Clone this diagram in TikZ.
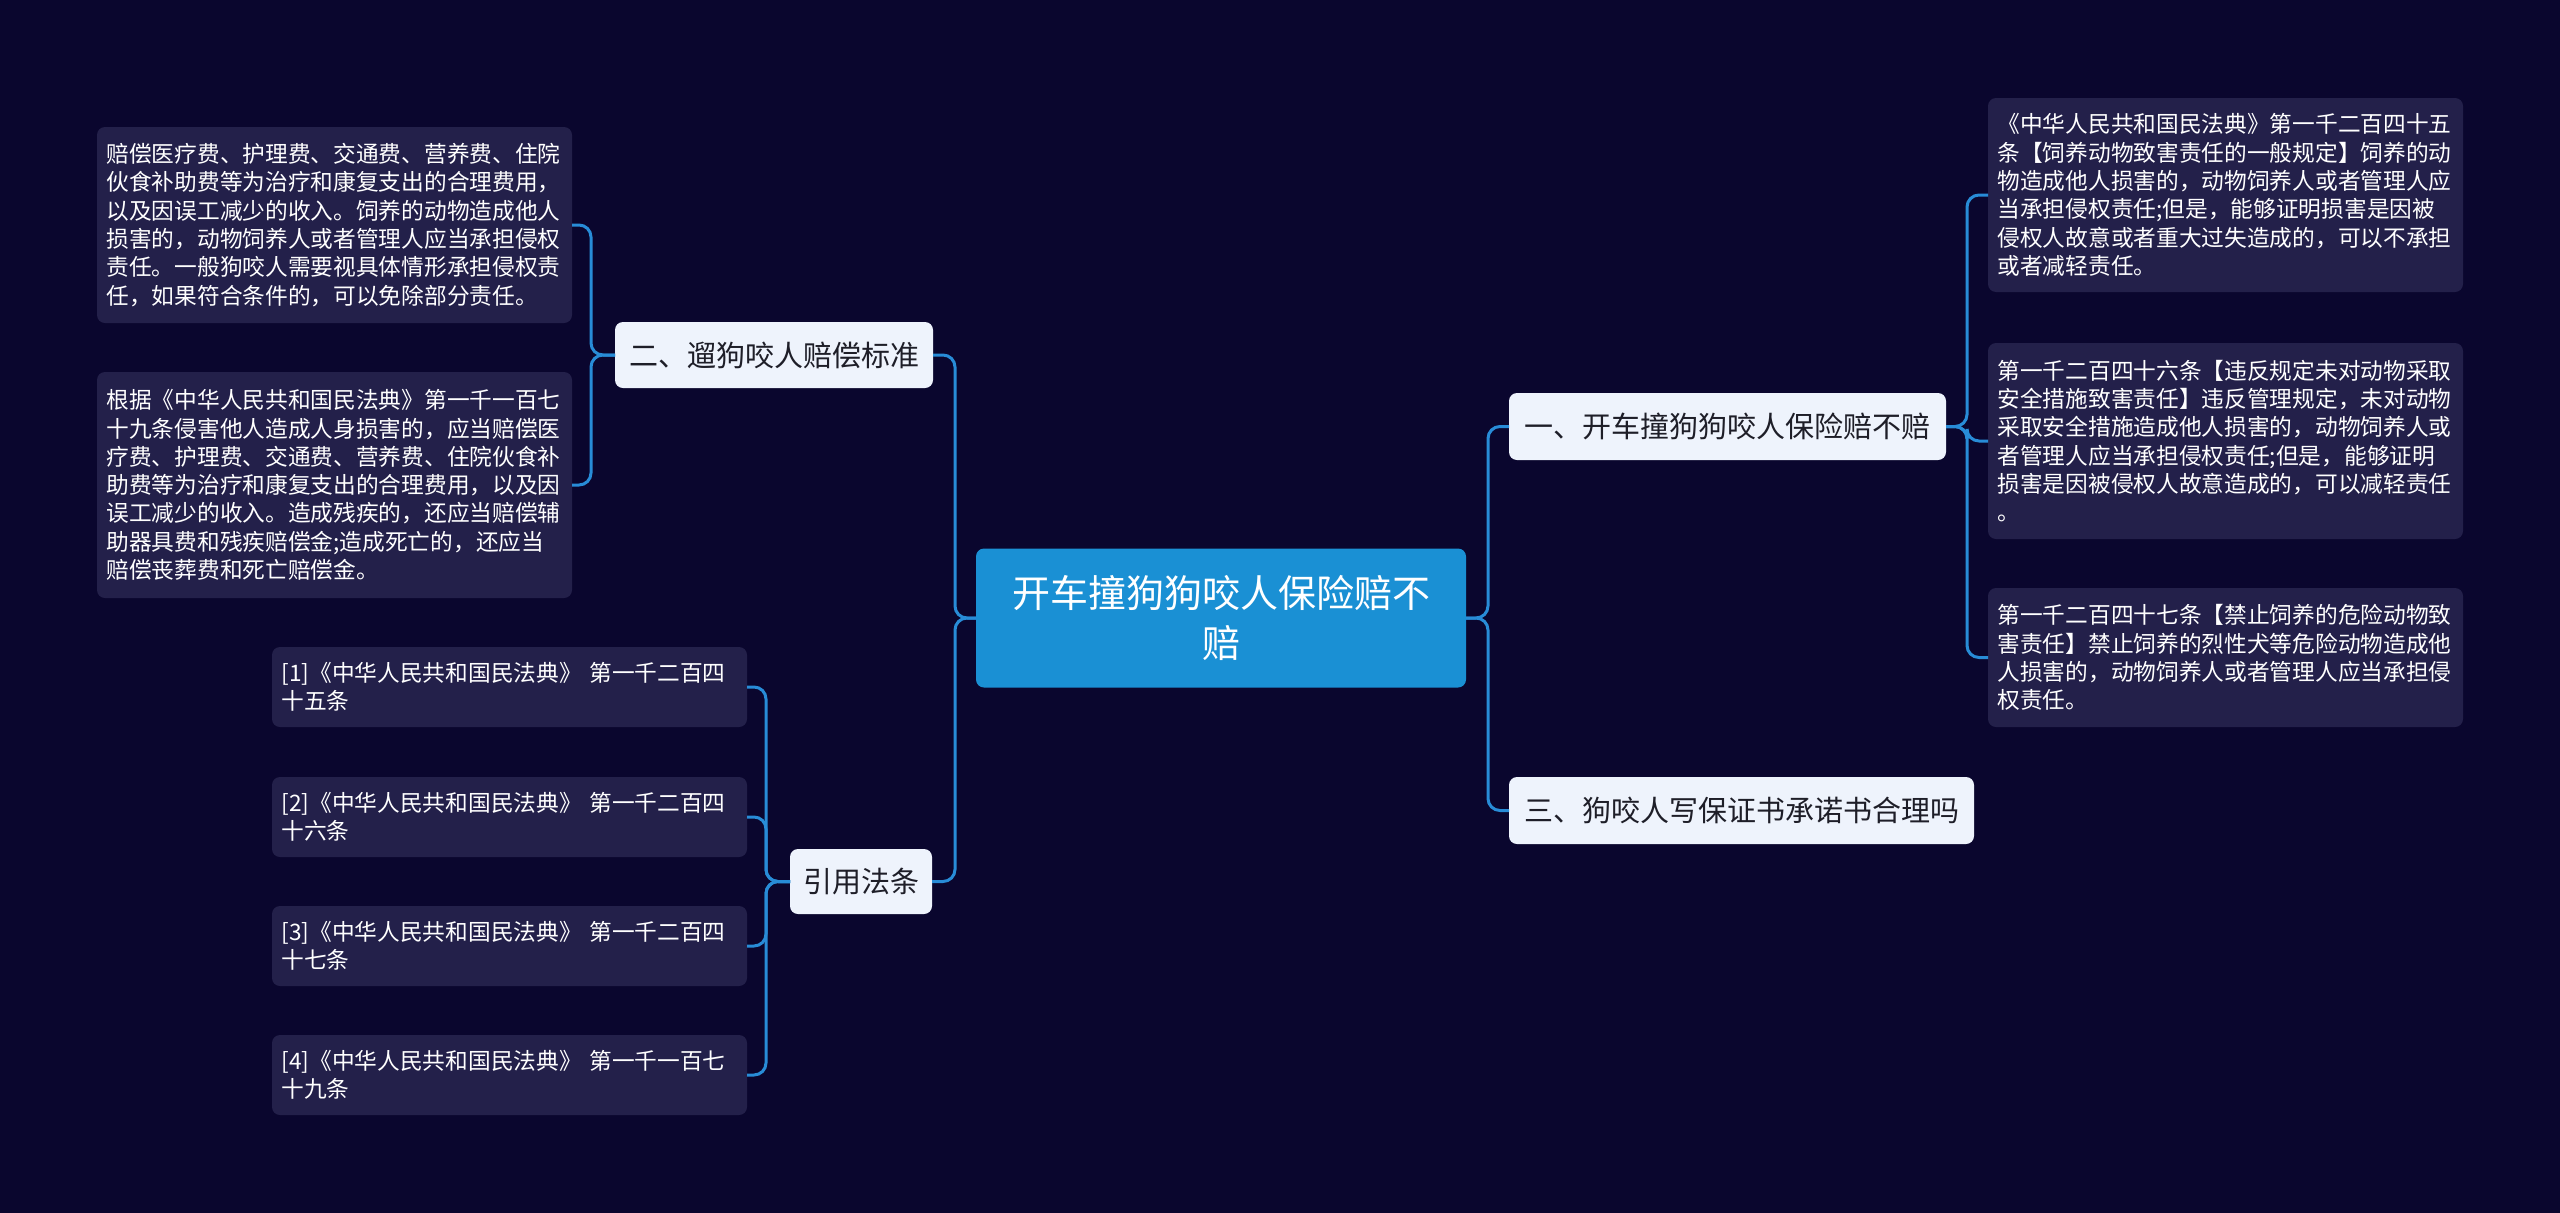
\documentclass[tikz,border=0pt]{standalone}
\usepackage{fontspec}
\setmainfont{Noto Sans CJK SC}
\definecolor{bgc}{RGB}{10,6,46}
\definecolor{leafc}{RGB}{35,32,74}
\definecolor{lightc}{RGB}{238,243,252}
\definecolor{darktxt}{RGB}{30,30,40}
\definecolor{rootc}{RGB}{26,144,212}
\definecolor{linec}{RGB}{40,140,215}
\begin{document}
\begin{tikzpicture}[x=1pt,y=-1pt,
  every node/.style={inner sep=0pt, outer sep=0pt},
  rootbox/.style={fill=rootc, rounded corners=8pt, text=white, minimum width=490pt, minimum height=139pt, align=center, font=\fontsize{38}{50}\selectfont},
  midbox/.style={fill=lightc, rounded corners=8pt, text=darktxt, minimum height=66pt, align=center, font=\fontsize{29}{34}\selectfont},
  leafbox/.style={fill=leafc, rounded corners=8pt, text=white, minimum width=475pt, text width=456pt, inner xsep=9.5pt, align=left, font=\fontsize{22.7}{28.3}\selectfont},
  conn/.style={draw=linec, line width=3pt, rounded corners=12pt}
]
\fill[bgc] (0,0) rectangle (2560,1213);
\useasboundingbox (0,0) rectangle (2560,1213);

% root
\node[rootbox] (root) at (1221,618) {开车撞狗狗咬人保险赔不\\赔};

% second level
\node[midbox, minimum width=318pt] (two) at (774,355) {二、遛狗咬人赔偿标准};
\node[midbox, minimum width=142pt, minimum height=65pt] (cite) at (861,881.5) {引用法条};
\node[midbox, minimum width=437pt, minimum height=67pt] (one) at (1727.5,426.5) {一、开车撞狗狗咬人保险赔不赔};
\node[midbox, minimum width=465pt, minimum height=67pt] (three) at (1741.5,810.5) {三、狗咬人写保证书承诺书合理吗};

% left leaves
\node[leafbox, minimum height=196pt] (l1) at (334.5,225) {赔偿医疗费、护理费、交通费、营养费、住院\\伙食补助费等为治疗和康复支出的合理费用，\\以及因误工减少的收入。饲养的动物造成他人\\损害的，动物饲养人或者管理人应当承担侵权\\责任。一般狗咬人需要视具体情形承担侵权责\\任，如果符合条件的，可以免除部分责任。};
\node[leafbox, minimum height=226pt] (l2) at (334.5,485) {根据《中华人民共和国民法典》第一千一百七\\十九条侵害他人造成人身损害的，应当赔偿医\\疗费、护理费、交通费、营养费、住院伙食补\\助费等为治疗和康复支出的合理费用，以及因\\误工减少的收入。造成残疾的，还应当赔偿辅\\助器具费和残疾赔偿金;造成死亡的，还应当\\赔偿丧葬费和死亡赔偿金。};

% citation leaves
\node[leafbox, minimum height=80pt] (c1) at (509.5,687) {[1]《中华人民共和国民法典》 第一千二百四\\十五条};
\node[leafbox, minimum height=80pt] (c2) at (509.5,817) {[2]《中华人民共和国民法典》 第一千二百四\\十六条};
\node[leafbox, minimum height=80pt] (c3) at (509.5,946) {[3]《中华人民共和国民法典》 第一千二百四\\十七条};
\node[leafbox, minimum height=80pt] (c4) at (509.5,1075) {[4]《中华人民共和国民法典》 第一千一百七\\十九条};

% right leaves
\node[leafbox, minimum height=194pt] (r1) at (2225.5,195) {《中华人民共和国民法典》第一千二百四十五\\条【饲养动物致害责任的一般规定】饲养的动\\物造成他人损害的，动物饲养人或者管理人应\\当承担侵权责任;但是，能够证明损害是因被\\侵权人故意或者重大过失造成的，可以不承担\\或者减轻责任。};
\node[leafbox, minimum height=196pt] (r2) at (2225.5,441) {第一千二百四十六条【违反规定未对动物采取\\安全措施致害责任】违反管理规定，未对动物\\采取安全措施造成他人损害的，动物饲养人或\\者管理人应当承担侵权责任;但是，能够证明\\损害是因被侵权人故意造成的，可以减轻责任\\。};
\node[leafbox, minimum height=139pt] (r3) at (2225.5,657.5) {第一千二百四十七条【禁止饲养的危险动物致\\害责任】禁止饲养的烈性犬等危险动物造成他\\人损害的，动物饲养人或者管理人应当承担侵\\权责任。};

% connectors
\draw[conn] (root.east) -- ++(22,0) |- (one.west);
\draw[conn] (root.east) -- ++(22,0) |- (three.west);
\draw[conn] (root.west) -- ++(-21,0) |- (two.east);
\draw[conn] (root.west) -- ++(-21,0) |- (cite.east);

\draw[conn] (two.west) -- ++(-24,0) |- (l1.east);
\draw[conn] (two.west) -- ++(-24,0) |- (l2.east);

\draw[conn] (cite.west) -- ++(-24,0) |- (c1.east);
\draw[conn] (cite.west) -- ++(-24,0) |- (c2.east);
\draw[conn] (cite.west) -- ++(-24,0) |- (c3.east);
\draw[conn] (cite.west) -- ++(-24,0) |- (c4.east);

\draw[conn] (one.east) -- ++(21,0) |- (r1.west);
\draw[conn] (one.east) -- ++(21,0) |- (r2.west);
\draw[conn] (one.east) -- ++(21,0) |- (r3.west);
\end{tikzpicture}
\end{document}
